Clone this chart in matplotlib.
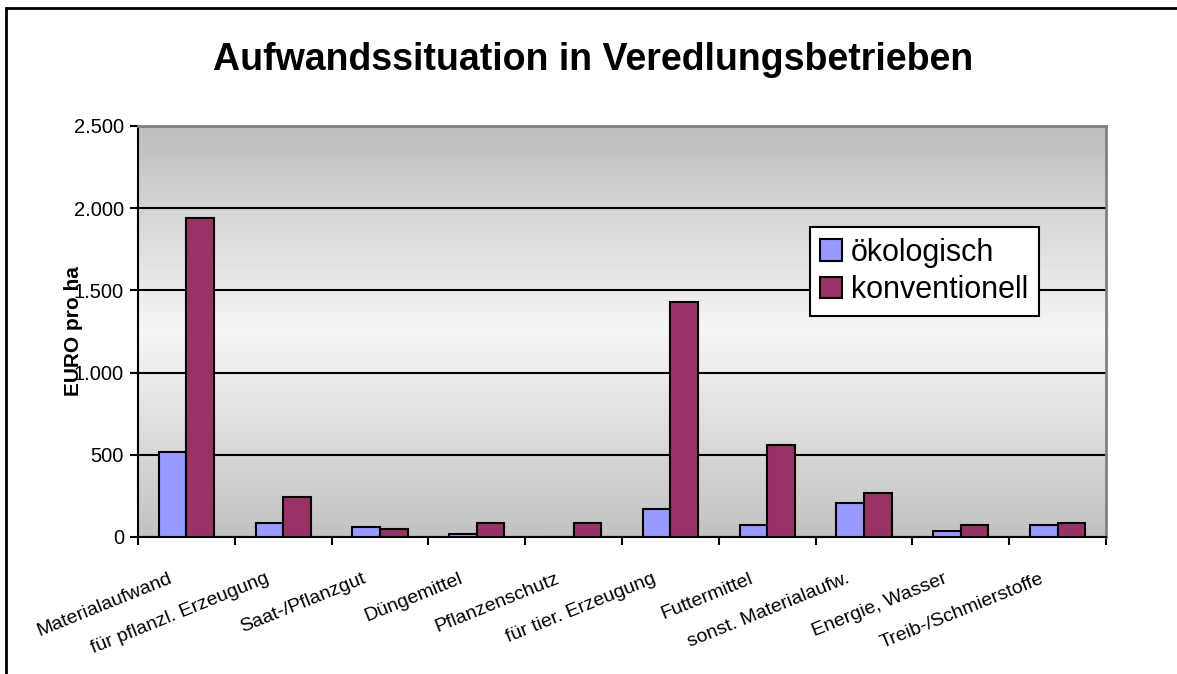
import matplotlib
matplotlib.use('Agg')
import matplotlib.pyplot as plt
import matplotlib.transforms as mtransforms
from matplotlib.patches import Rectangle
from matplotlib.ticker import FuncFormatter
import numpy as np

plt.rcParams['font.family'] = ['Liberation Sans', 'DejaVu Sans']

categories = ['Materialaufwand', 'für pflanzl. Erzeugung', 'Saat-/Pflanzgut',
              'Düngemittel', 'Pflanzenschutz', 'für tier. Erzeugung',
              'Futtermittel', 'sonst. Materialaufw.', 'Energie, Wasser',
              'Treib-/Schmierstoffe']
oeko = [517, 87, 61, 16, 0, 172, 75, 209, 38, 75]
konv = [1940, 245, 50, 87, 87, 1430, 561, 270, 75, 87]
series_names = ['ökologisch', 'konventionell']

fig = plt.figure(figsize=(11.77, 6.74), dpi=100)
ax = fig.add_axes([0.1172, 0.2033, 0.8225, 0.6098])

# outer frame of the chart area
fig.patches.append(Rectangle((6 / 1177, -0.1), 1.2, 1 - 8 / 674 + 0.1,
                             transform=fig.transFigure, fill=False,
                             edgecolor='black', linewidth=2, zorder=0))

# grey gradient background of the plot area
grad = np.concatenate([np.linspace(0.74, 0.96, 50), np.linspace(0.96, 0.76, 50)])
img = np.repeat(grad[:, None], 2, axis=1)
ax.imshow(img, cmap='gray', vmin=0, vmax=1, aspect='auto',
          extent=[0, 1, 0, 1], transform=ax.transAxes, zorder=0,
          interpolation='bilinear')

x = np.arange(len(categories))
w = 0.285
ax.bar(x - w / 2, oeko, w, color='#9999FF', edgecolor='black', linewidth=1.5,
       label=series_names[0], zorder=3)
ax.bar(x + w / 2, konv, w, color='#993366', edgecolor='black', linewidth=1.5,
       label=series_names[1], zorder=3)

ax.set_xlim(-0.5, len(categories) - 0.5)
ax.set_ylim(0, 2500)
ax.set_yticks(np.arange(0, 2501, 500))
ax.yaxis.set_major_formatter(FuncFormatter(lambda v, p: f'{int(v):,}'.replace(',', '.')))
ax.yaxis.grid(True, color='black', linewidth=1.5, zorder=1)
ax.set_axisbelow(True)

ax.set_xticks(np.arange(-0.5, len(categories)), minor=False)
ax.set_xticklabels([])
ax.tick_params(axis='both', direction='out', length=6, width=1.5, colors='black')
ax.tick_params(axis='y', labelsize=14.5, pad=4)

for s in ['left', 'bottom']:
    ax.spines[s].set_color('black')
    ax.spines[s].set_linewidth(1.5)
for s in ['top', 'right']:
    ax.spines[s].set_color('#808080')
    ax.spines[s].set_linewidth(2)

# rotated category labels
for i, lab in enumerate(categories):
    off = mtransforms.offset_copy(ax.get_xaxis_transform(), fig=fig,
                                  x=-18, y=-33, units='dots')
    ax.text(i, 0, lab, transform=off, rotation=22, rotation_mode='anchor',
            ha='right', va='top', fontsize=14)

ax.set_ylabel('EURO pro ha', fontsize=15, fontweight='bold')
ax.yaxis.set_label_coords(-0.057, 0.5)

fig.suptitle('Aufwandssituation in Veredlungsbetrieben', fontsize=27,
             fontweight='bold', x=0.504, y=0.937)

leg = ax.legend(loc='upper left', bbox_to_anchor=(0.694, 0.754), borderaxespad=0,
                fontsize=22, frameon=True, fancybox=False, shadow=False,
                handlelength=0.7, handleheight=0.7, handletextpad=0.3,
                borderpad=0.35, labelspacing=0.25)
leg.get_frame().set_edgecolor('black')
leg.get_frame().set_linewidth(1.5)
leg.get_frame().set_facecolor('white')
leg.get_frame().set_alpha(1)

fig.savefig('out.png', dpi=100)
